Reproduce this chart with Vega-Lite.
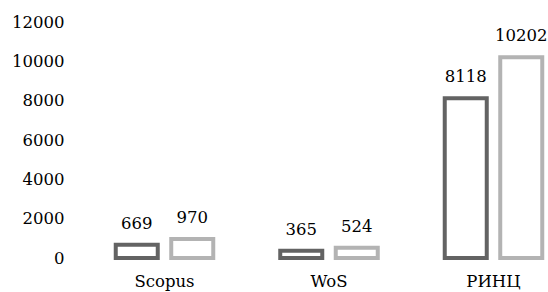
{
  "$schema": "https://vega.github.io/schema/vega-lite/v6.json",
  "autosize": {"type": "none"},
  "padding": {"left": 110, "top": 22, "right": 0, "bottom": 34},
  "width": 438,
  "height": 236,
  "config": {"view": {"stroke": null}, "font": "DejaVu Serif", "background": "white"},
  "data": {"values": [
    {"db": "Scopus", "series": "A", "value": 669},
    {"db": "Scopus", "series": "B", "value": 970},
    {"db": "WoS", "series": "A", "value": 365},
    {"db": "WoS", "series": "B", "value": 524},
    {"db": "РИНЦ", "series": "A", "value": 8118},
    {"db": "РИНЦ", "series": "B", "value": 10202}
  ]},
  "encoding": {
    "x": {"field": "db", "type": "nominal", "sort": ["Scopus", "WoS", "РИНЦ"],
      "scale": {"paddingInner": 0, "paddingOuter": 0, "range": [-27.75, 465.75]},
      "axis": {"title": null, "labelAngle": 0, "domain": false, "ticks": false, "labelFontSize": 16.5, "labelColor": "#000", "labelPadding": 15}},
    "xOffset": {"field": "series", "type": "nominal", "scale": {"paddingInner": 0.243, "paddingOuter": 0.6035}},
    "y": {"field": "value", "type": "quantitative", "scale": {"domain": [0, 12000]},
      "axis": {"title": null, "values": [0, 2000, 4000, 6000, 8000, 10000, 12000], "format": "d", "grid": false, "domain": false, "ticks": false, "labelFontSize": 16.5, "labelPadding": 46, "labelColor": "#000"}}
  },
  "layer": [
    {"mark": {"type": "bar", "fill": "white", "strokeWidth": 4},
     "encoding": {"stroke": {"field": "series", "type": "nominal", "scale": {"range": ["#636363", "#b3b3b3"]}, "legend": null}}},
    {"mark": {"type": "text", "fontSize": 16.5, "baseline": "alphabetic", "dy": -16, "color": "#000"},
     "encoding": {"text": {"field": "value", "type": "quantitative", "format": "d"}}}
  ]
}
